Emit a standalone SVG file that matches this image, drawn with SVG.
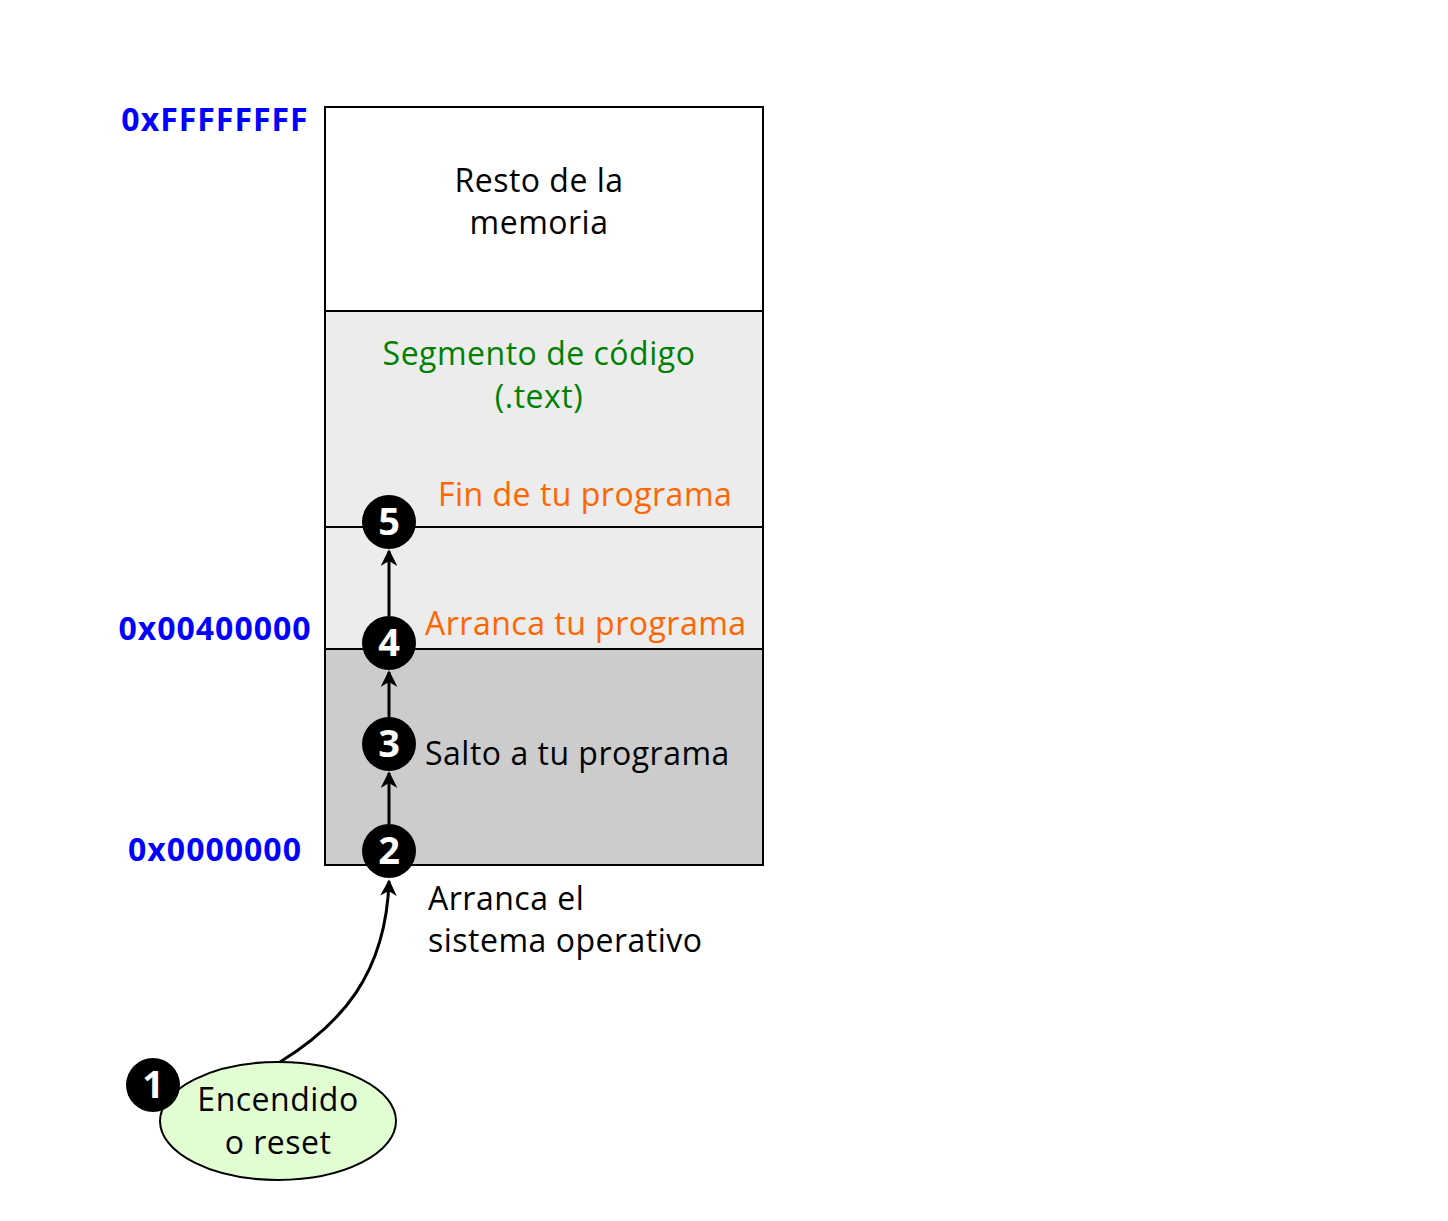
<svg xmlns="http://www.w3.org/2000/svg" width="1448" height="1221" viewBox="0 0 1448 1221">
<defs>
<style>
text{font-family:"Open Sans","Noto Sans","DejaVu Sans",sans-serif;font-size:32px;letter-spacing:0.5px;}
.t{fill:#000;}
.g{fill:#008000;}
.o{fill:#ff6600;}
.addr{fill:#0000ff;font-weight:bold;font-size:32px;letter-spacing:1px;text-anchor:middle;}
.num{fill:#fff;font-weight:bold;font-size:38px;letter-spacing:0;text-anchor:middle;}
.mid{text-anchor:middle;}
.sec{stroke:#000;stroke-width:2;}
.badge{fill:#000;}
.conn{fill:none;stroke:#000;stroke-width:3;}
</style>
<marker id="ah" viewBox="0 0 10 10" refX="9" refY="5" markerWidth="5.5" markerHeight="5.5" orient="auto" markerUnits="strokeWidth">
<path d="M0,0 L10,5 L0,10 L3,5 Z" fill="#000"/>
</marker>
</defs>
<rect width="1448" height="1221" fill="#fff"/>
<g id="memory">
<rect class="sec" x="325" y="107" width="438" height="204" fill="#ffffff"/>
<rect class="sec" x="325" y="311" width="438" height="216" fill="#ececec"/>
<rect class="sec" x="325" y="527" width="438" height="122" fill="#ececec"/>
<rect class="sec" x="325" y="649" width="438" height="216" fill="#cccccc"/>
<text class="t mid" x="539" y="192">Resto de la</text>
<text class="t mid" x="539" y="234">memoria</text>
<text class="g mid" x="539" y="365">Segmento de código</text>
<text class="g mid" x="539" y="408">(.text)</text>
</g>
<g id="addresses">
<text class="addr" x="215" y="131">0xFFFFFFFF</text>
<text class="addr" x="215" y="640">0x00400000</text>
<text class="addr" x="215" y="861">0x0000000</text>
</g>
<g id="connectors">
<line class="conn" x1="389" y1="824" x2="389" y2="773" marker-end="url(#ah)"/>
<line class="conn" x1="389" y1="717" x2="389" y2="672" marker-end="url(#ah)"/>
<line class="conn" x1="389" y1="616" x2="389" y2="551" marker-end="url(#ah)"/>
<path class="conn" d="M280,1062 C340,1025 386,975 389,881" marker-end="url(#ah)"/>
</g>
<g id="node1">
<ellipse cx="278" cy="1121" rx="118" ry="59" fill="#e2fdd2" stroke="#000" stroke-width="2"/>
<text class="t mid" x="278" y="1111">Encendido</text>
<text class="t mid" x="278" y="1154">o reset</text>
<circle class="badge" cx="153" cy="1085" r="27"/>
<text class="num" x="153" y="1098">1</text>
</g>
<g id="node2">
<circle class="badge" cx="389" cy="851" r="27"/>
<text class="num" x="389" y="864">2</text>
<text class="t" x="428" y="910">Arranca el</text>
<text class="t" x="428" y="952">sistema operativo</text>
</g>
<g id="node3">
<circle class="badge" cx="389" cy="744" r="27"/>
<text class="num" x="389" y="757">3</text>
<text class="t" x="425" y="765">Salto a tu programa</text>
</g>
<g id="node4">
<circle class="badge" cx="389" cy="643" r="27"/>
<text class="num" x="389" y="656">4</text>
<text class="o" x="425" y="635">Arranca tu programa</text>
</g>
<g id="node5">
<circle class="badge" cx="389" cy="522" r="27"/>
<text class="num" x="389" y="535">5</text>
<text class="o" x="438" y="506">Fin de tu programa</text>
</g>
</svg>
